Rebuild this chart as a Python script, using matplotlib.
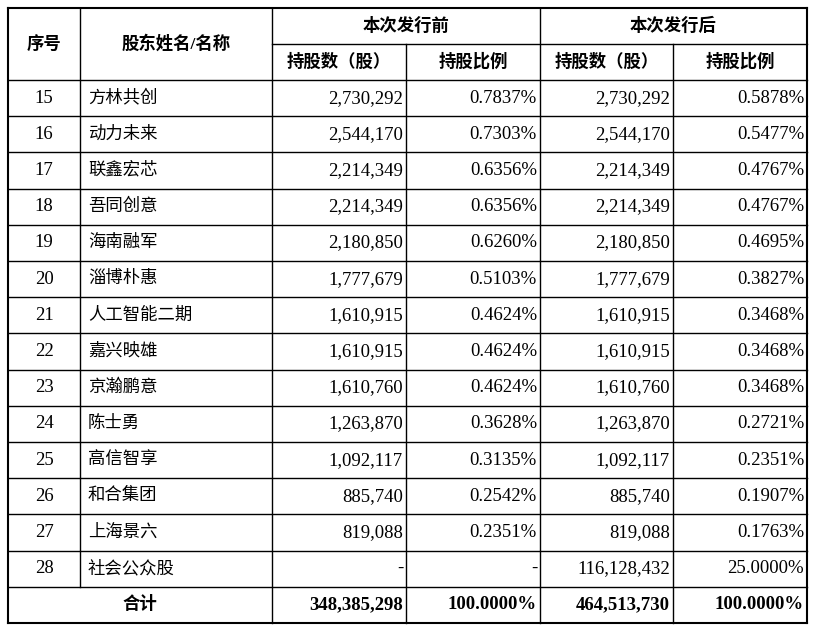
import matplotlib.pyplot as plt

plt.rcParams['font.family'] = ['Liberation Serif', 'Noto Sans CJK SC', 'DejaVu Sans']

seq = list(range(15, 29))
names = ["方林共创", "动力未来", "联鑫宏芯", "吾同创意", "海南融军", "淄博朴惠", "人工智能二期",
         "嘉兴映雄", "京瀚鹏意", "陈士勇", "高信智享", "和合集团", "上海景六", "社会公众股"]
before_shares = ["2,730,292", "2,544,170", "2,214,349", "2,214,349", "2,180,850", "1,777,679",
                 "1,610,915", "1,610,915", "1,610,760", "1,263,870", "1,092,117", "885,740",
                 "819,088", "-"]
before_pct = ["0.7837%", "0.7303%", "0.6356%", "0.6356%", "0.6260%", "0.5103%", "0.4624%",
              "0.4624%", "0.4624%", "0.3628%", "0.3135%", "0.2542%", "0.2351%", "-"]
after_shares = ["2,730,292", "2,544,170", "2,214,349", "2,214,349", "2,180,850", "1,777,679",
                "1,610,915", "1,610,915", "1,610,760", "1,263,870", "1,092,117", "885,740",
                "819,088", "116,128,432"]
after_pct = ["0.5878%", "0.5477%", "0.4767%", "0.4767%", "0.4695%", "0.3827%", "0.3468%",
             "0.3468%", "0.3468%", "0.2721%", "0.2351%", "0.1907%", "0.1763%", "25.0000%"]
total = ["348,385,298", "100.0000%", "464,513,730", "100.0000%"]

W, H = 814, 630
fig = plt.figure(figsize=(W / 100, H / 100), dpi=100)
ax = fig.add_axes([0, 0, 1, 1])
ax.set_xlim(0, W)
ax.set_ylim(H, 0)
ax.axis('off')

xs = [8, 80, 272, 406, 540, 673, 807]
top, mid, hb = 8, 44, 80
rh = 36.2
nrows = len(seq) + 1
bottom = hb + rh * nrows
lw = 1.0

def hline(y, x0=xs[0], x1=xs[-1], w=lw):
    ax.plot([x0, x1], [y, y], color='black', lw=w)

def vline(x, y0=top, y1=bottom, w=lw):
    ax.plot([x, x], [y0, y1], color='black', lw=w)

hline(top, w=1.5)
hline(bottom, w=1.5)
hline(mid, xs[2], xs[-1])
for i in range(nrows):
    hline(hb + rh * i)
for i, x in enumerate(xs):
    w = 1.5 if i in (0, len(xs) - 1) else lw
    if i in (3, 5):
        vline(x, mid, bottom)
    elif i == 1:
        vline(x, top, bottom - rh)
    else:
        vline(x, top, bottom, w)

fs = 12.5
nfs = 13.5
kw = dict(va='center')
ax.text((xs[0] + xs[1]) / 2, (top + hb) / 2, "序号", ha='center', weight='bold', fontsize=fs, **kw)
ax.text((xs[1] + xs[2]) / 2, (top + hb) / 2, "股东姓名/名称", ha='center', weight='bold', fontsize=fs, **kw)
ax.text((xs[2] + xs[4]) / 2, (top + mid) / 2, "本次发行前", ha='center', weight='bold', fontsize=fs, **kw)
ax.text((xs[4] + xs[6]) / 2, (top + mid) / 2, "本次发行后", ha='center', weight='bold', fontsize=fs, **kw)
for j, lab in enumerate(["持股数（股）", "持股比例", "持股数（股）", "持股比例"]):
    ax.text((xs[2 + j] + xs[3 + j]) / 2, (mid + hb) / 2, lab, ha='center', weight='bold', fontsize=fs, **kw)

for i in range(len(seq)):
    y = hb + rh * (i + 0.5)
    ax.text((xs[0] + xs[1]) / 2, y, str(seq[i]), ha='center', fontsize=nfs, **kw)
    ax.text(xs[1] + 8, y, names[i], ha='left', fontsize=fs, **kw)
    for j, v in enumerate([before_shares[i], before_pct[i], after_shares[i], after_pct[i]]):
        ax.text(xs[3 + j] - 3, y, v, ha='right', fontsize=nfs, **kw)

y = hb + rh * (nrows - 0.5)
ax.text((xs[0] + xs[2]) / 2, y, "合计", ha='center', weight='bold', fontsize=fs, **kw)
for j, v in enumerate(total):
    ax.text(xs[3 + j] - 3, y, v, ha='right', weight='bold', fontsize=nfs, **kw)

fig.savefig('out.png', dpi=100, facecolor='white')
